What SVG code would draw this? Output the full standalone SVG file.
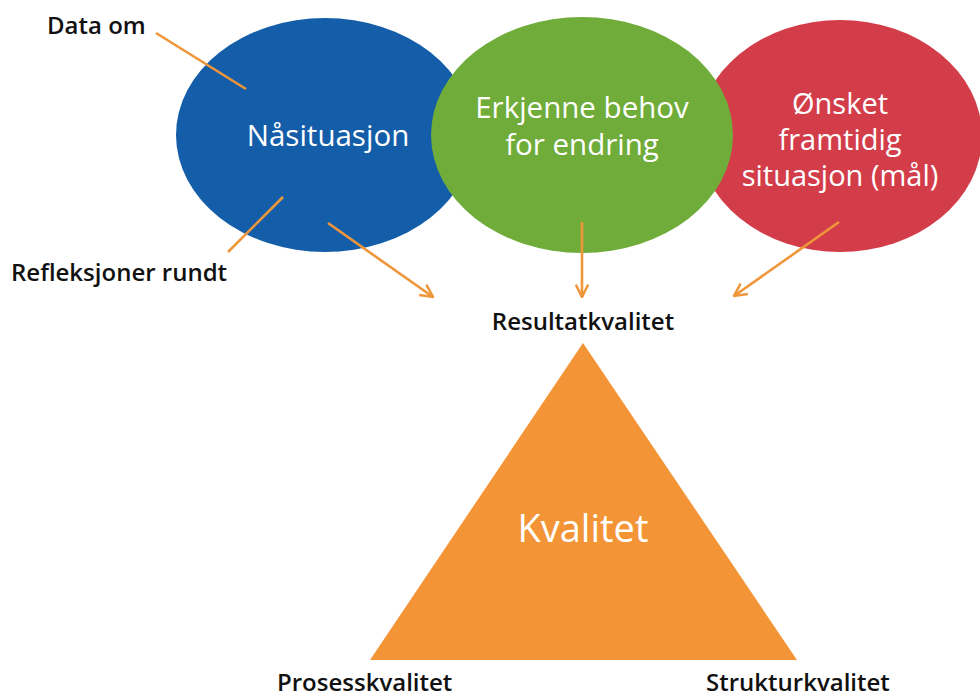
<svg xmlns="http://www.w3.org/2000/svg" width="980" height="698" viewBox="0 0 980 698">
<style>
.lbl{font-family:"Open Sans","Liberation Sans",sans-serif;font-weight:600;fill:#111;font-size:24px}
.wt{font-family:"Open Sans","Liberation Sans",sans-serif;font-weight:500;fill:#fff;text-anchor:middle}
.ln{stroke:#F0963A;stroke-width:2.6;fill:none}
</style>
<defs>
<marker id="ah" viewBox="0 0 12 12" refX="11" refY="6" markerWidth="15" markerHeight="15" orient="auto" markerUnits="userSpaceOnUse">
<path d="M1,1 L11,6 L1,11" fill="none" stroke="#F0963A" stroke-width="2"/>
</marker>
</defs>
<rect width="980" height="698" fill="#fff"/>
<g id="node-nasituasjon">
<ellipse cx="325" cy="135" rx="149" ry="117" fill="#145DA8"/>
<text class="wt" x="328" y="146" font-size="29.5">Nåsituasjon</text>
</g>
<g id="node-onsket">
<ellipse cx="840" cy="136" rx="142" ry="116" fill="#D33D4A"/>
<text class="wt" x="840" y="114" font-size="29">Ønsket</text>
<text class="wt" x="840" y="150" font-size="29">framtidig</text>
<text class="wt" x="840" y="186" font-size="29">situasjon (mål)</text>
</g>
<g id="node-erkjenne">
<ellipse cx="582" cy="135" rx="151" ry="118" fill="#6FAC3A"/>
<text class="wt" x="582" y="118" font-size="29.5">Erkjenne behov</text>
<text class="wt" x="582" y="155" font-size="29.5">for endring</text>
</g>
<g id="node-kvalitet">
<polygon points="583,343 370,660 797,660" fill="#F39536"/>
<text class="wt" x="583" y="542" font-size="38">Kvalitet</text>
</g>
<g id="labels">
<text class="lbl" x="47" y="34">Data om</text>
<text class="lbl" x="11" y="281">Refleksjoner rundt</text>
<text class="lbl" x="583" y="330" text-anchor="middle">Resultatkvalitet</text>
<text class="lbl" x="277" y="691">Prosesskvalitet</text>
<text class="lbl" x="706" y="691">Strukturkvalitet</text>
</g>
<g id="connectors">
<line class="ln" x1="156" y1="33" x2="246" y2="89"/>
<line class="ln" x1="283" y1="197" x2="228" y2="252"/>
<line class="ln" x1="328" y1="223" x2="433" y2="297" marker-end="url(#ah)"/>
<line class="ln" x1="582" y1="222" x2="582" y2="297" marker-end="url(#ah)"/>
<line class="ln" x1="839" y1="222" x2="734" y2="296" marker-end="url(#ah)"/>
</g>
</svg>
